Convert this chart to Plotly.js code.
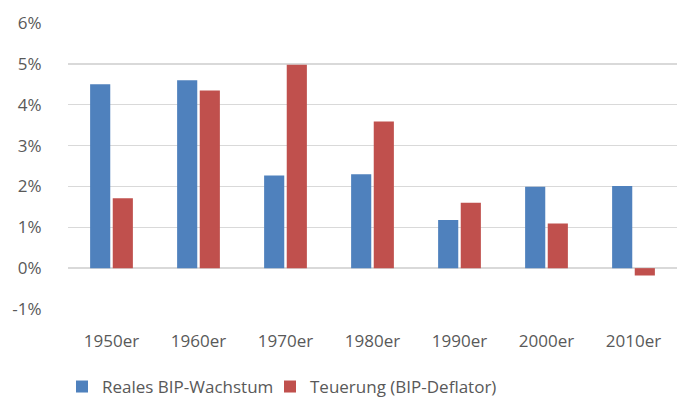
<!DOCTYPE html>
<html>
<head>
<meta charset="utf-8">
<script src="https://cdn.plot.ly/plotly-3.0.1.min.js"></script>
<style>html,body{margin:0;padding:0;background:#fff;}#chart{width:677px;height:401px;}</style>
</head>
<body>
<div id="chart"></div>
<script>
var categories = ["1950er", "1960er", "1970er", "1980er", "1990er", "2000er", "2010er"];
var realGrowth = [0.045, 0.046, 0.0227, 0.023, 0.0118, 0.0199, 0.0201];
var inflation = [0.0171, 0.0435, 0.0498, 0.0359, 0.016, 0.0109, -0.0018];
var seriesNames = ["Reales BIP-Wachstum", "Teuerung (BIP-Deflator)"];
var yTicks = [-0.01, 0, 0.01, 0.02, 0.03, 0.04, 0.05, 0.06];
var yTickLabels = ["-1%", "0%", "1%", "2%", "3%", "4%", "5%", "6%"];

var font = {family: "Open Sans, sans-serif", size: 17, color: "#595959"};
var traces = [
  {type: "bar", x: categories, y: realGrowth, name: seriesNames[0], legend: "legend",
   marker: {color: "#4f81bd", line: {width: 0}}, hoverinfo: "none"},
  {type: "bar", x: categories, y: inflation, name: seriesNames[1], legend: "legend2",
   marker: {color: "#c0504d", line: {width: 0}}, hoverinfo: "none"}
];
var legendBase = {orientation: "h", xref: "container", yref: "container", y: 0.035,
                  xanchor: "left", yanchor: "middle", font: font, itemwidth: 30,
                  bgcolor: "rgba(0,0,0,0)"};
var layout = {
  width: 677, height: 401,
  margin: {l: 68, r: 0, t: 23, b: 92},
  paper_bgcolor: "#fff", plot_bgcolor: "#fff",
  font: font,
  barmode: "group", bargap: 0.48, bargroupgap: 0.11,
  showlegend: true,
  legend: Object.assign({}, legendBase, {x: 0.0916}),
  legend2: Object.assign({}, legendBase, {x: 0.3988}),
  xaxis: {type: "category", showgrid: false, zeroline: false, showline: false,
          ticks: "outside", ticklen: 17, tickcolor: "rgba(0,0,0,0)", tickfont: font},
  yaxis: {range: [-0.01, 0.06], tickvals: yTicks, ticktext: yTickLabels, showgrid: true,
          gridcolor: "#d9d9d9", gridwidth: 1.5, zeroline: false, showline: false,
          ticks: "outside", ticklen: 22, tickcolor: "rgba(0,0,0,0)", tickfont: font}
};
Plotly.newPlot("chart", traces, layout, {displayModeBar: false, staticPlot: true});
</script>
</body>
</html>
